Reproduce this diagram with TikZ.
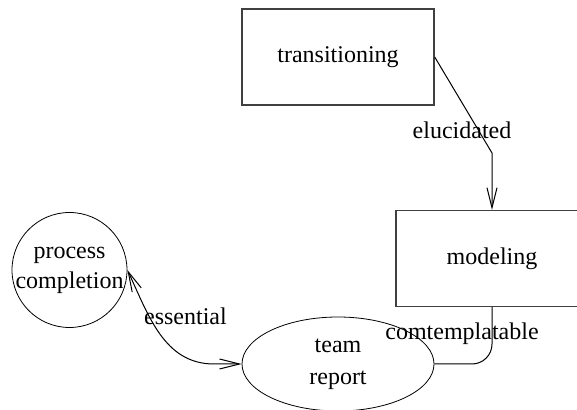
\documentclass[tikz,border=0pt]{standalone}
\usepackage{fontspec}
\setmainfont{Liberation Serif}
\usetikzlibrary{arrows.meta,positioning,shapes.geometric}

\begin{document}
\begin{tikzpicture}[x=0.5pt,y=-0.5pt,font=\fontsize{12}{15}\selectfont,
box/.style={draw=black!75,line width=0.7pt,minimum width=96pt,minimum height=48pt},
ell/.style={draw,ellipse,align=center,minimum width=96pt,minimum height=47pt,inner sep=0pt},
circ/.style={draw,circle,align=center,minimum size=57.5pt,inner sep=-1.5pt},
edge/.style={line width=0.5pt},
>={Straight Barb[length=10pt,width=5pt]}]
\useasboundingbox (0,0) rectangle (577,410);
\node[box](trans) at (338,57){transitioning};
\node[box](model) at (492,258.5){modeling};
\node[circ](proc) at (69.5,270){process\\completion};
\node[ell,font=\fontsize{12}{16}\selectfont](team) at (338,364){team\\report};
\coordinate (k1) at (492,153);
\coordinate (k2) at (214,364);
\draw[->,edge](trans.east)--(k1) node[xshift=-15pt,yshift=11.5pt]{elucidated}--(model.north);
\draw[edge,rounded corners=10pt](model.south)|-node[xshift=-15pt,yshift=15pt]{comtemplatable}(team.east);
\draw[<->,edge](proc.east)to[out=-65,in=180]node[pos=0.3,anchor=west,xshift=-4.5pt,yshift=-3pt]{essential}(k2)--(team.west);
\end{tikzpicture}
\end{document}
